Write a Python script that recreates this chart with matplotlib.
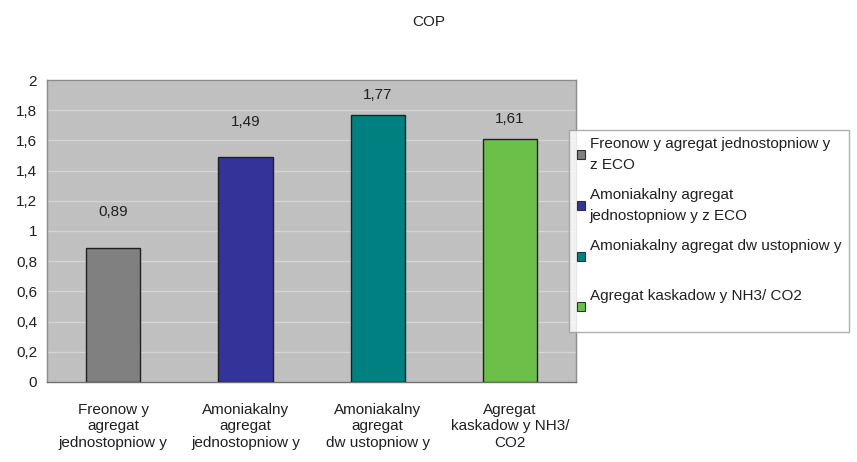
import matplotlib
matplotlib.use("Agg")
import matplotlib.pyplot as plt
from matplotlib.patches import Patch

plt.rcParams['font.family'] = ['Liberation Sans', 'DejaVu Sans']

# Data
categories = [
    "Freonow y\nagregat\njednostopniow y",
    "Amoniakalny\nagregat\njednostopniow y",
    "Amoniakalny\nagregat\ndw ustopniow y",
    "Agregat\nkaskadow y NH3/\nCO2",
]
legend_labels = [
    "Freonow y agregat jednostopniow y\nz ECO",
    "Amoniakalny agregat\njednostopniow y z ECO",
    "Amoniakalny agregat dw ustopniow y\n ",
    "Agregat kaskadow y NH3/ CO2\n ",
]
cop_values = [0.89, 1.49, 1.77, 1.61]
value_labels = ["0,89", "1,49", "1,77", "1,61"]
y_ticks = [0, 0.2, 0.4, 0.6, 0.8, 1.0, 1.2, 1.4, 1.6, 1.8, 2.0]
y_tick_labels = ["0", "0,2", "0,4", "0,6", "0,8", "1", "1,2", "1,4", "1,6", "1,8", "2"]

colors = ["#808080", "#333399", "#008080", "#6cc04a"]
label_offsets = [25.5, 25.5, 14.5, 14.0]  # points above bar top
FS = 11

fig = plt.figure(figsize=(8.57, 4.62), dpi=100)
ax = fig.add_axes([0.0548, 0.1732, 0.6175, 0.6536])
ax.set_facecolor("#c0c0c0")

x = list(range(len(cop_values)))
bars = ax.bar(x, cop_values, width=0.41, color=colors, edgecolor="#202020",
              linewidth=1.0, zorder=3)

for xi, v, lab, off in zip(x, cop_values, value_labels, label_offsets):
    ax.annotate(lab, (xi, v), xytext=(0, off), textcoords="offset points",
                ha="center", va="center", fontsize=FS, color="#202020")

ax.set_xlim(-0.5, 3.5)
ax.set_ylim(0, 2)
ax.set_yticks(y_ticks)
ax.set_yticklabels(y_tick_labels, fontsize=FS, color="#202020")
ax.set_xticks(x)
ax.set_xticklabels(categories, fontsize=FS, color="#202020", linespacing=1.22)
ax.tick_params(axis="y", length=0, pad=7)
ax.tick_params(axis="x", length=0, pad=15)
ax.yaxis.grid(True, color="#d4d4d4", linewidth=1.0, zorder=0)
ax.set_axisbelow(True)
for s in ax.spines.values():
    s.set_color("#8c8c8c")
    s.set_linewidth(1.0)
ax.spines["bottom"].set_color("#707070")

fig.text(0.5, 0.952, "COP", ha="center", va="center", fontsize=FS, color="#202020")

handles = [Patch(facecolor=c, edgecolor="#303030", linewidth=0.8) for c in colors]
leg = fig.legend(handles, legend_labels, loc="upper left",
                 bbox_to_anchor=(0.664, 0.719), fontsize=FS, frameon=True,
                 fancybox=False, handlelength=0.55, handleheight=0.55,
                 handletextpad=0.3, labelspacing=1.05, borderpad=0.5,
                 borderaxespad=0.0)
leg.get_frame().set_edgecolor("#9a9a9a")
leg.get_frame().set_linewidth(1.0)
for t in leg.get_texts():
    t.set_color("#202020")
    t.set_linespacing(1.6)

fig.savefig("out.png", dpi=100, facecolor="white")
